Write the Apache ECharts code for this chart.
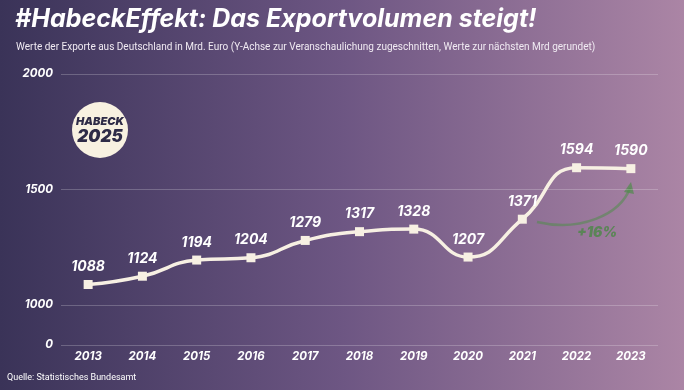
<!DOCTYPE html>
<html><head><meta charset="utf-8">
<script src="https://cdn.jsdelivr.net/npm/echarts@6/dist/echarts.min.js"></script>
<style>html,body{margin:0;padding:0;}#c{width:684px;height:390px;}</style>
</head><body><div id="c"></div>
<script>
const years = ['2013','2014','2015','2016','2017','2018','2019','2020','2021','2022','2023'];
const exportsBn = [1088,1124,1194,1204,1279,1317,1328,1207,1371,1594,1590];
const yTickValues = [826,1000,1500,2000];
const yTickLabels = ['0','1000','1500','2000'];

const chart = echarts.init(document.getElementById('c'));
const FONT = 'Inter, "Liberation Sans", sans-serif';
const SUB = 'Roboto, "Liberation Sans", sans-serif';
chart.setOption({
  backgroundColor: {type:'linear', x:0, y:0, x2:1, y2:0, colorStops:[
    {offset:0, color:'#3a3358'},{offset:0.5, color:'#6d5683'},{offset:1, color:'#ab85a5'}]},
  title: [
    {text:'#HabeckEffekt: Das Exportvolumen steigt!', left:15, top:7, padding:0,
     textStyle:{color:'#ffffff', fontSize:25, fontWeight:'bold', fontStyle:'italic', fontFamily:FONT}},
    {text:'Werte der Exporte aus Deutschland in Mrd. Euro (Y-Achse zur Veranschaulichung zugeschnitten, Werte zur nächsten Mrd gerundet)',
     left:16, top:42, padding:0, textStyle:{color:'#f0eaf2', fontSize:10, fontWeight:'normal', fontFamily:SUB}},
    {text:'Quelle: Statistisches Bundesamt', left:7, top:373, padding:0,
     textStyle:{color:'#ffffff', fontSize:9, fontWeight:'normal', fontFamily:SUB}}
  ],
  grid:{left:61, right:26, top:74, bottom:45},
  xAxis:{type:'category', data:years, boundaryGap:true,
    axisLine:{show:false}, axisTick:{show:false},
    axisLabel:{color:'#ffffff', fontSize:11.5, fontWeight:'bold', fontStyle:'italic', fontFamily:FONT, margin:6}},
  yAxis:{type:'value', min:826, max:2000,
    axisLine:{show:false}, axisTick:{show:false, customValues:yTickValues},
    axisLabel:{customValues:yTickValues, color:'#ffffff', fontSize:11.5, fontWeight:'bold', fontStyle:'italic', fontFamily:FONT, margin:8,
      formatter:(v)=>{const i=yTickValues.indexOf(v); return i>=0?yTickLabels[i]:'';}},
    splitLine:{show:true, lineStyle:{color:'rgba(255,255,255,0.22)', width:1}}},
  series:[{
    type:'line', data:exportsBn, smooth:0.5,
    symbol:'rect', symbolSize:9,
    lineStyle:{color:'#f7f0e3', width:3.5},
    itemStyle:{color:'#f7f0e3'},
    label:{show:true, position:'top', distance:6, color:'#ffffff', fontSize:14, fontWeight:'bold', fontStyle:'italic', fontFamily:FONT},
    z:5
  }],
  graphic:[
    {type:'circle', shape:{cx:100, cy:130, r:28}, style:{fill:'#f8f1e1'}},
    {type:'text', x:100, y:122, style:{text:'HABECK', fill:'#2e2b47', font:'italic 900 11px '+FONT, align:'center', verticalAlign:'middle'}},
    {type:'text', x:100, y:137, style:{text:'2025', fill:'#2e2b47', font:'italic 900 17px '+FONT, align:'center', verticalAlign:'middle'}},
    {type:'bezierCurve', shape:{x1:537, y1:222, cpx1:580, cpy1:232, cpx2:620, cpy2:215, x2:630, y2:188},
     style:{stroke:'rgba(80,140,75,0.55)', lineWidth:2.5, fill:null}},
    {type:'polygon', shape:{points:[[624,192],[631,182],[634,194]]}, style:{fill:'rgba(80,140,75,0.7)'}},
    {type:'text', x:597, y:233, style:{text:'+16%', fill:'rgba(75,135,70,0.8)', font:'italic 900 14px '+FONT, align:'center', verticalAlign:'middle'}}
  ]
});
</script></body></html>
